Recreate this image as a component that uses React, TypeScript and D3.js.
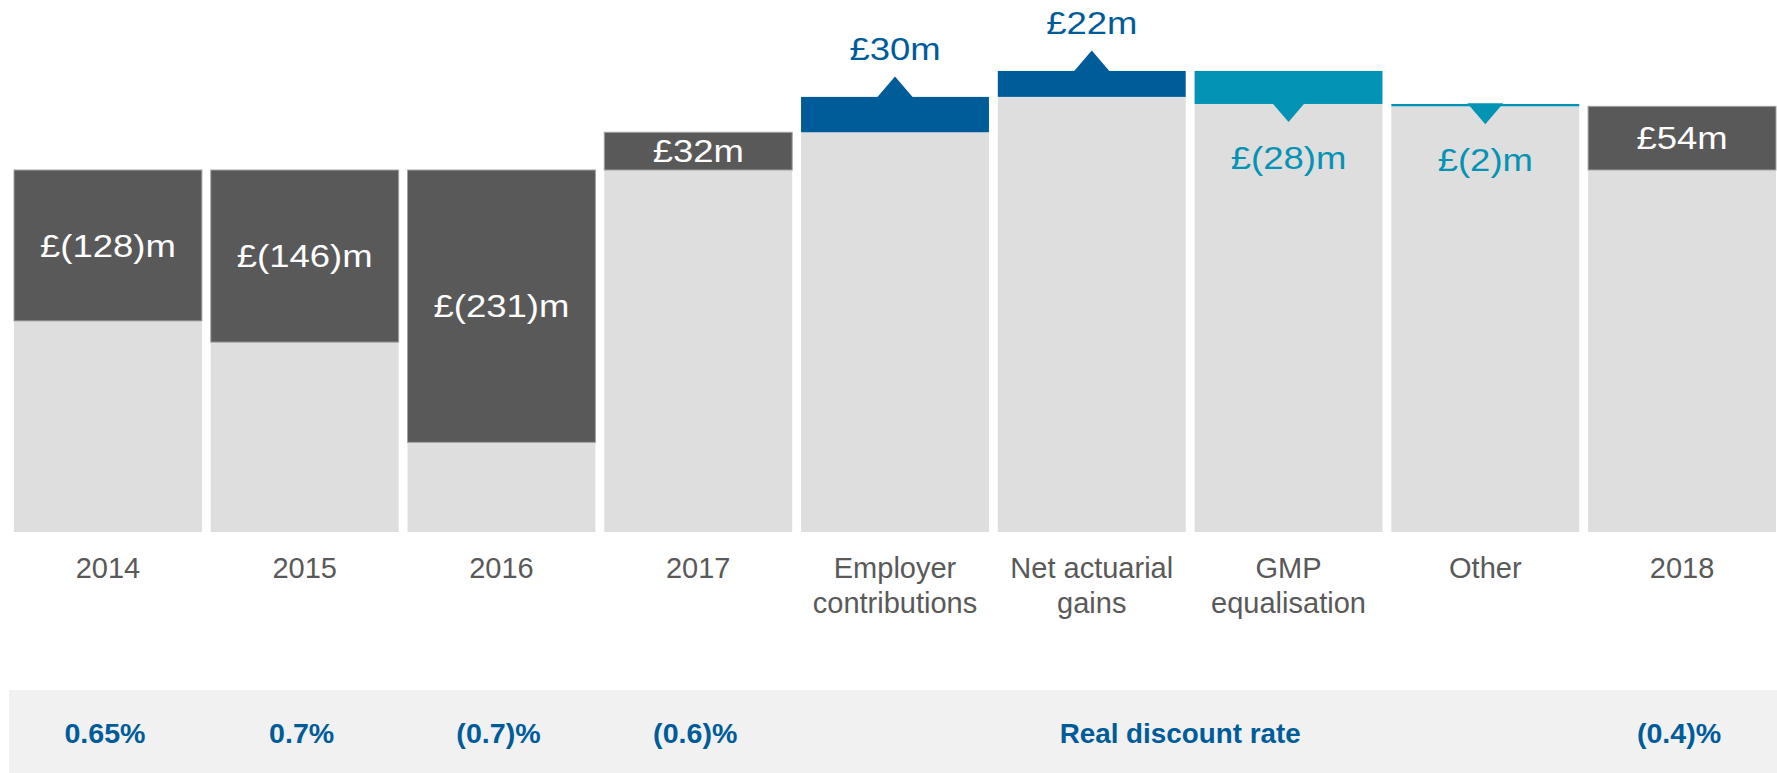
import React from "react";
import * as d3 from "d3";

const categories = ["2014", "2015", "2016", "2017", "Employer contributions", "Net actuarial gains", "GMP equalisation", "Other", "2018"];
const tickLines = [["2014"], ["2015"], ["2016"], ["2017"], ["Employer", "contributions"], ["Net actuarial", "gains"], ["GMP", "equalisation"], ["Other"], ["2018"]];
const values = [-128, -146, -231, 32, 30, 22, -28, -2, 54];
const kinds = ["total", "total", "total", "total", "delta", "delta", "delta", "delta", "total"];
const valueLabels = ["£(128)m", "£(146)m", "£(231)m", "£32m", "£30m", "£22m", "£(28)m", "£(2)m", "£54m"];
const rates = ["0.65%", "0.7%", "(0.7)%", "(0.6)%", "", "", "", "", "(0.4)%"];
const rateTitle = "Real discount rate";
const rateTitleSpan = ["Employer contributions", "Other"];
const yBaseValue = -307;

const W = 1777;
const H = 773;
const FONT = "'Liberation Sans', Arial, Helvetica, sans-serif";
const DARK = "#595959";
const LIGHT = "#dedede";
const BLUE = "#005c99";
const TEAL = "#0393b5";

export default function App() {
  const x = d3.scaleBand<string>().domain(categories).range([14, 1776]).paddingInner(0.045).paddingOuter(0);
  const y = d3.scaleLinear().domain([yBaseValue, 0]).range([532, 170]);

  let running = 0;
  const bars = categories.map((c, i) => {
    const v = values[i];
    let start: number, end: number;
    if (kinds[i] === "total") {
      start = 0;
      end = v;
      running = v;
    } else {
      start = running;
      end = running + v;
      running = end;
    }
    return { c, i, v, start, end, kind: kinds[i] };
  });

  const bw = x.bandwidth();
  const spanCenter = (x(rateTitleSpan[0])! + x(rateTitleSpan[1])! + bw) / 2;

  return (
    <div style={{ position: "absolute", left: 0, top: 0, width: W, height: H, overflow: "hidden" }}>
      <svg width={W} height={H} style={{ display: "block" }} fontFamily={FONT}>
        <rect x={0} y={0} width={W} height={H} fill="#ffffff" />
        {bars.map((b) => {
          const x0 = x(b.c)!;
          const cx = x0 + bw / 2;
          const lo = Math.min(b.start, b.end);
          const hi = Math.max(b.start, b.end);
          const yTop = y(hi);
          const yBot = y(lo);
          const isTotal = b.kind === "total";
          const color = isTotal ? DARK : b.v > 0 ? BLUE : TEAL;
          const els: React.ReactNode[] = [];
          els.push(<rect key="g" x={x0} y={yBot} width={bw} height={y(yBaseValue) - yBot} fill={LIGHT} />);
          els.push(
            <rect key="v" x={x0} y={yTop} width={bw} height={Math.max(yBot - yTop, 2)} fill={color}
              stroke={isTotal ? "#a3a3a3" : "none"} strokeWidth={isTotal ? 1 : 0} />
          );
          if (isTotal) {
            const my = (yTop + yBot) / 2;
            els.push(
              <text key="t" transform={`translate(${cx},${my}) scale(1.14,1)`} textAnchor="middle" dominantBaseline="central"
                fontSize={32} fill="#ffffff">{valueLabels[b.i]}</text>
            );
          } else if (b.v > 0) {
            const base = y(b.end);
            const peak = base - 20.5;
            els.push(<path key="a" d={`M${cx - 18},${base + 0.5}L${cx},${peak}L${cx + 18},${base + 0.5}Z`} fill={color} />);
            els.push(
              <text key="t" transform={`translate(${cx},${peak - 16}) scale(1.14,1)`} textAnchor="middle"
                fontSize={32} fill={BLUE}>{valueLabels[b.i]}</text>
            );
          } else {
            const edge = y(b.end);
            const tip = edge + 18;
            els.push(<path key="a" d={`M${cx - 18},${tip - 21}L${cx},${tip}L${cx + 18},${tip - 21}Z`} fill={color} />);
            els.push(
              <text key="t" transform={`translate(${cx},${tip + 47}) scale(1.14,1)`} textAnchor="middle"
                fontSize={32} fill={TEAL}>{valueLabels[b.i]}</text>
            );
          }
          els.push(
            <text key="x" x={cx} y={578} textAnchor="middle" fontSize={29} fill={DARK}>
              {tickLines[b.i].map((l, k) => (
                <tspan key={k} x={cx} dy={k === 0 ? 0 : 34.5}>{l}</tspan>
              ))}
            </text>
          );
          return <g key={b.c}>{els}</g>;
        })}
        <rect x={9} y={690} width={W - 9} height={H - 690} fill="#f1f1f1" />
        {categories.map((c, i) =>
          rates[i] ? (
            <text key={"r" + c} transform={`translate(${x(c)! + bw / 2 - 3},743) scale(1.06,1)`} textAnchor="middle" fontSize={27} fontWeight="bold" fill={BLUE}>
              {rates[i]}
            </text>
          ) : null
        )}
        <text transform={`translate(${spanCenter - 10},743) scale(1.03,1)`} textAnchor="middle" fontSize={27} fontWeight="bold" fill={BLUE}>{rateTitle}</text>
      </svg>
    </div>
  );
}
